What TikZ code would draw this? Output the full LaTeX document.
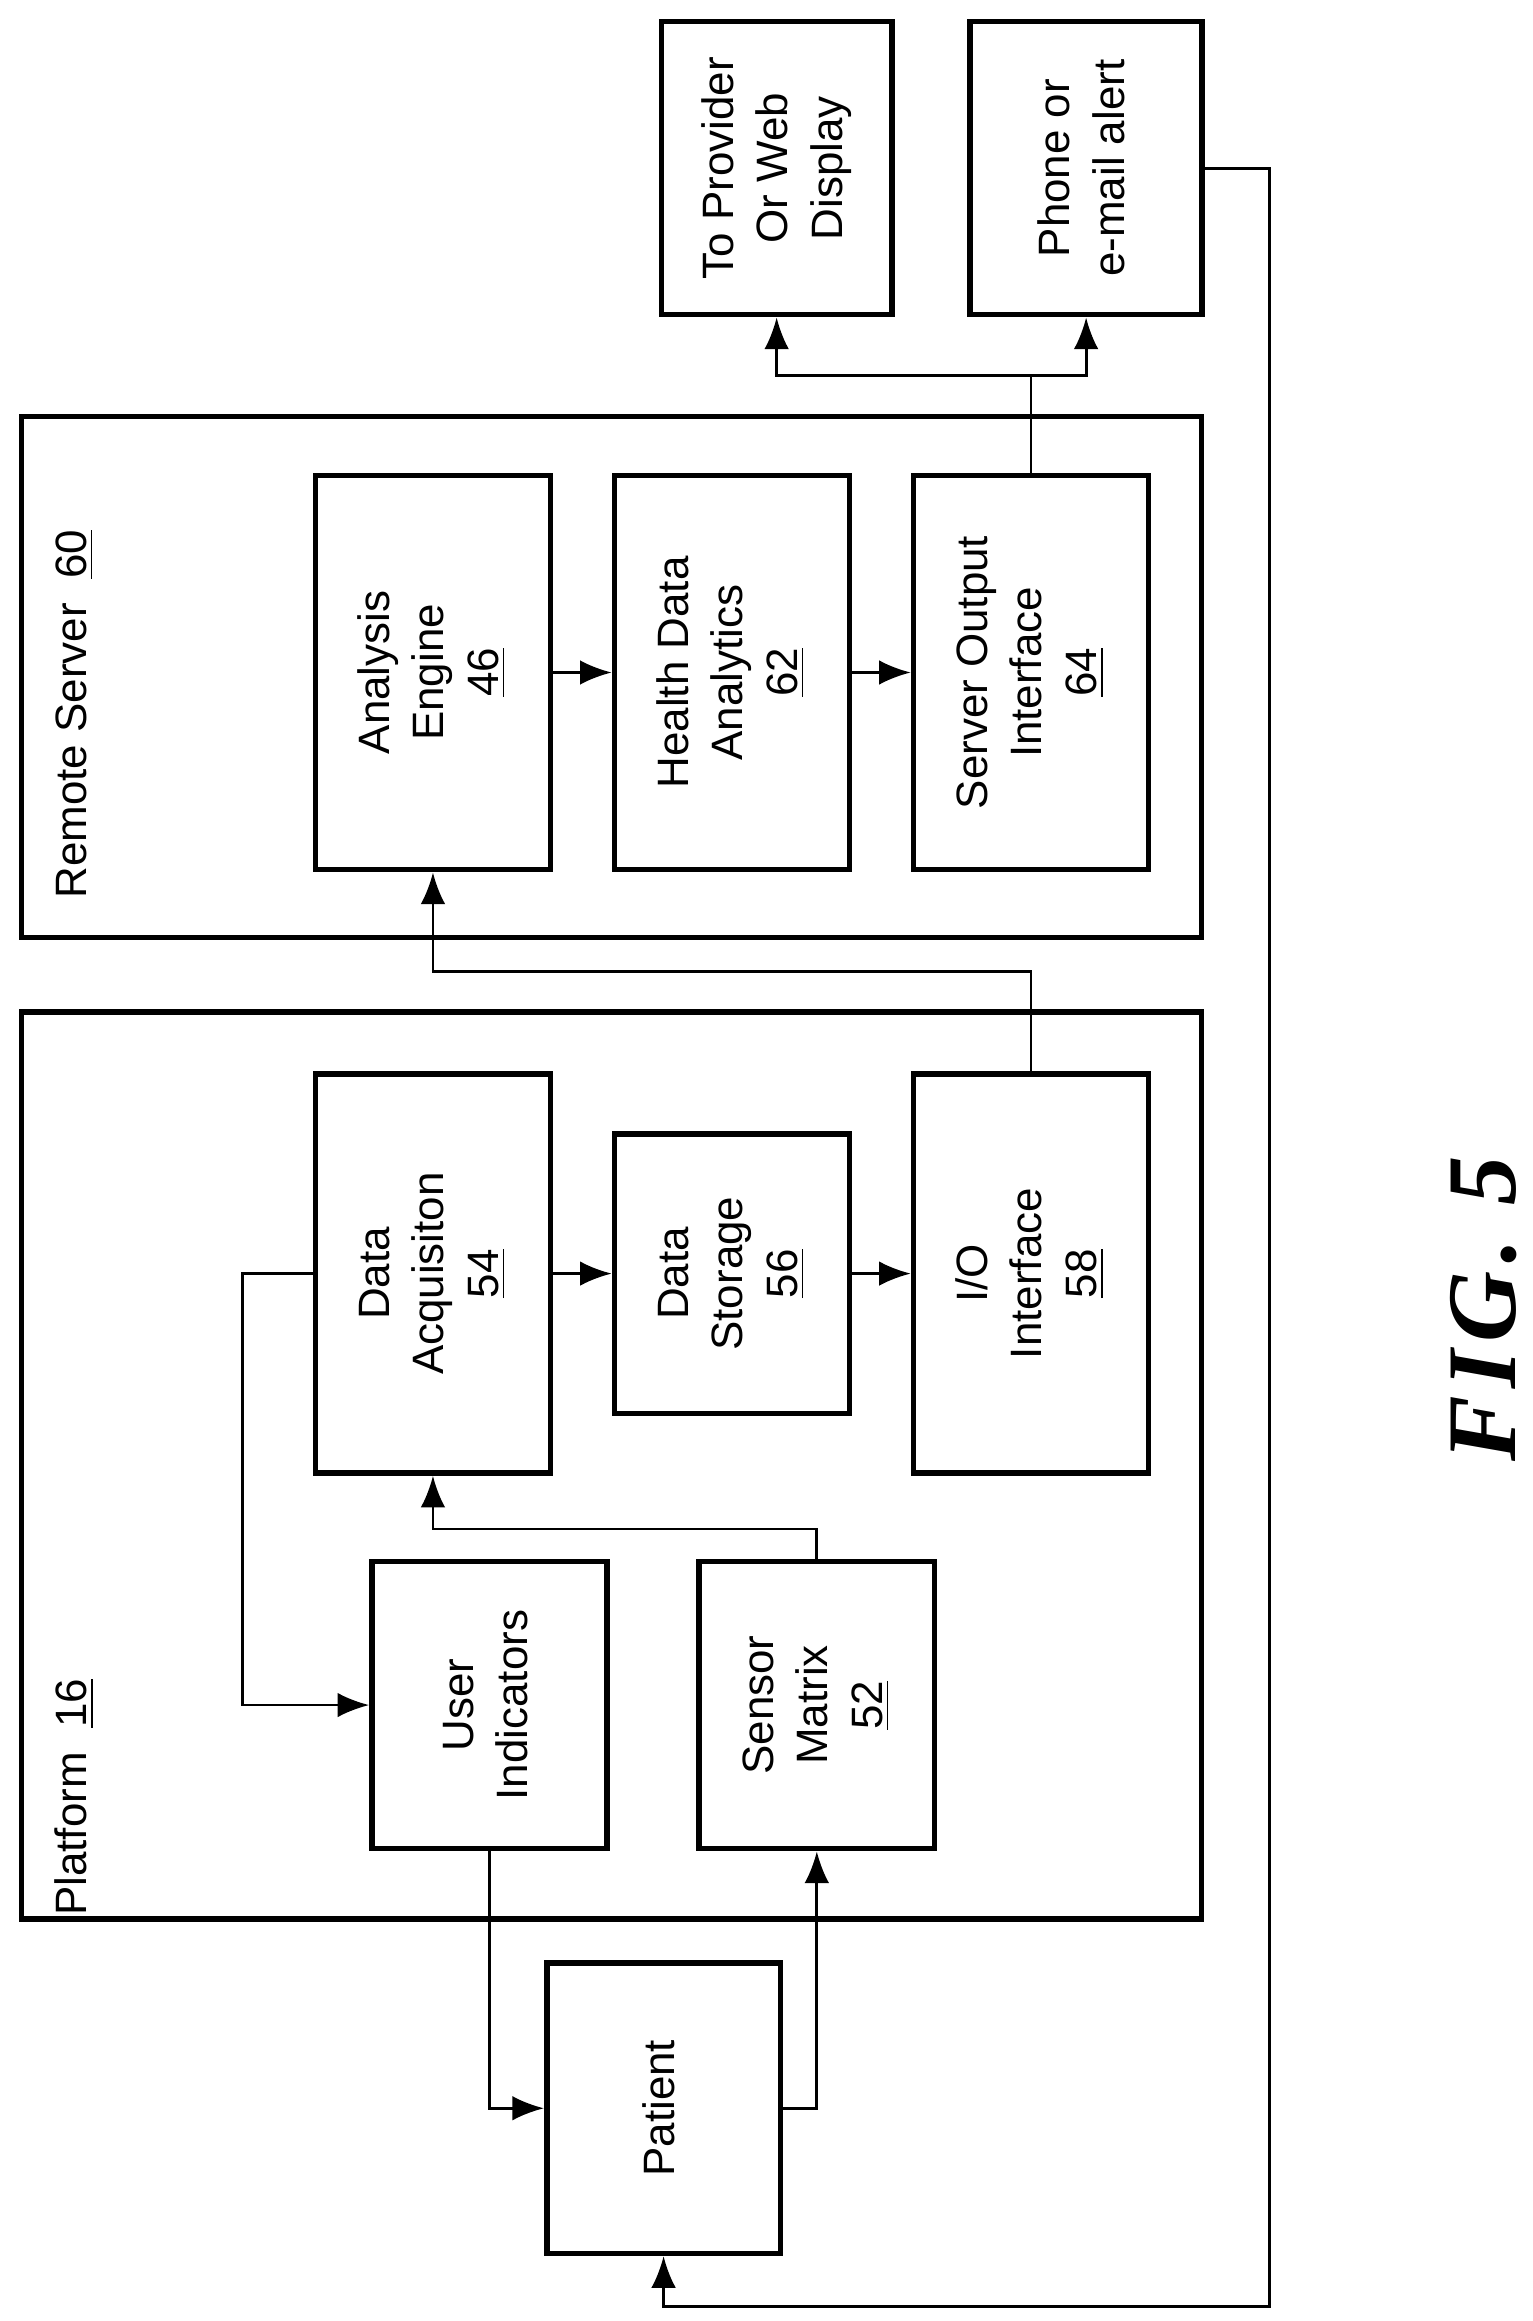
\documentclass[tikz,border=0pt]{standalone}
\usepackage{fontspec}
\setmainfont{Liberation Sans}
\newfontfamily\figfont[LetterSpace=8]{Liberation Serif}
\usetikzlibrary{arrows.meta}
\begin{document}
\begin{tikzpicture}[x=0.01488cm,y=-0.01488cm]
% size of one picture unit
\def\px{0.01488cm}
% styles
\tikzset{
  box/.style={draw, line width=1.6pt, rectangle, inner sep=0pt,
    font=\fontsize{12.5}{15.5}\selectfont},
  frame/.style={draw, line width=1.6pt, rectangle, inner sep=0pt},
  arr/.style={-{Latex[length=9pt,width=7pt]}, line width=0.8pt},
  line/.style={line width=0.8pt}
}
\newcommand{\rtext}[1]{\rotatebox{90}{\begin{tabular}{c}#1\end{tabular}}}
\path (0,0) rectangle (1030,1560);

% containers
\node[frame,minimum width=793*\px,minimum height=350*\px] (server) at (411,455) {};
\node[frame,minimum width=793*\px,minimum height=610*\px] (plat) at (411,985) {};
\node[rotate=90,font=\fontsize{12.5}{15}\selectfont] (serverlbl) at (50,480) {Remote Server\ \ \underline{60}};
\node[rotate=90,font=\fontsize{12.5}{15}\selectfont] (platlbl) at (50,1208) {Platform\ \ \underline{16}};

% server blocks
\node[box,minimum width=158*\px,minimum height=265*\px] (ae) at (291,452) {\rtext{Analysis\\Engine\\\underline{46}}};
\node[box,minimum width=158*\px,minimum height=265*\px] (hda) at (492,452) {\rtext{Health Data\\Analytics\\\underline{62}}};
\node[box,minimum width=158*\px,minimum height=265*\px] (soi) at (693,452) {\rtext{Server Output\\Interface\\\underline{64}}};

% platform blocks
\node[box,minimum width=158*\px,minimum height=268*\px] (da) at (291,856) {\rtext{Data\\Acquisiton\\\underline{54}}};
\node[box,minimum width=158*\px,minimum height=188*\px] (ds) at (492,856) {\rtext{Data\\Storage\\\underline{56}}};
\node[box,minimum width=158*\px,minimum height=268*\px] (io) at (693,856) {\rtext{I/O\\Interface\\\underline{58}}};
\node[box,minimum width=158*\px,minimum height=193*\px] (ui) at (329,1146) {\rtext{User\\Indicators}};
\node[box,minimum width=158*\px,minimum height=193*\px] (sm) at (549,1146) {\rtext{Sensor\\Matrix\\\underline{52}}};

% outside blocks
\node[box,minimum width=157*\px,minimum height=195*\px] (pat) at (446,1417) {\rtext{Patient}};
\node[box,minimum width=155*\px,minimum height=197*\px] (prov) at (522,113) {\rtext{To Provider\\Or Web\\Display}};
\node[box,minimum width=156*\px,minimum height=197*\px] (phone) at (730,113) {\rtext{Phone or\\e-mail alert}};

% connectors
\draw[arr] (ae) -- (hda);
\draw[arr] (hda) -- (soi);
\draw[arr] (da) -- (ds);
\draw[arr] (ds) -- (io);
\draw[line] (soi.north) -- ++(0,-65) coordinate (split);
\draw[arr] (split) -| (prov.south);
\draw[arr] (split) -| (phone.south);
\draw[arr] (io.north) -- ++(0,-67) -| (ae.south);
\draw[arr] (sm.north) -- ++(0,-20) -| (da.south);
\draw[arr] (da.west) -- ++(-47,0) |- (ui.west);
\draw[arr] (ui.south) |- (pat.west);
\draw[arr] (pat.east) -| (sm.south);
\coordinate (back) at (853,1550);
\draw[arr] (phone.east) -| (back) -| (pat.south);

\node[rotate=90,font=\figfont\bfseries\itshape\fontsize{28}{32}\selectfont] (fig) at (997,880) {FIG.\,\,5};
\end{tikzpicture}
\end{document}
